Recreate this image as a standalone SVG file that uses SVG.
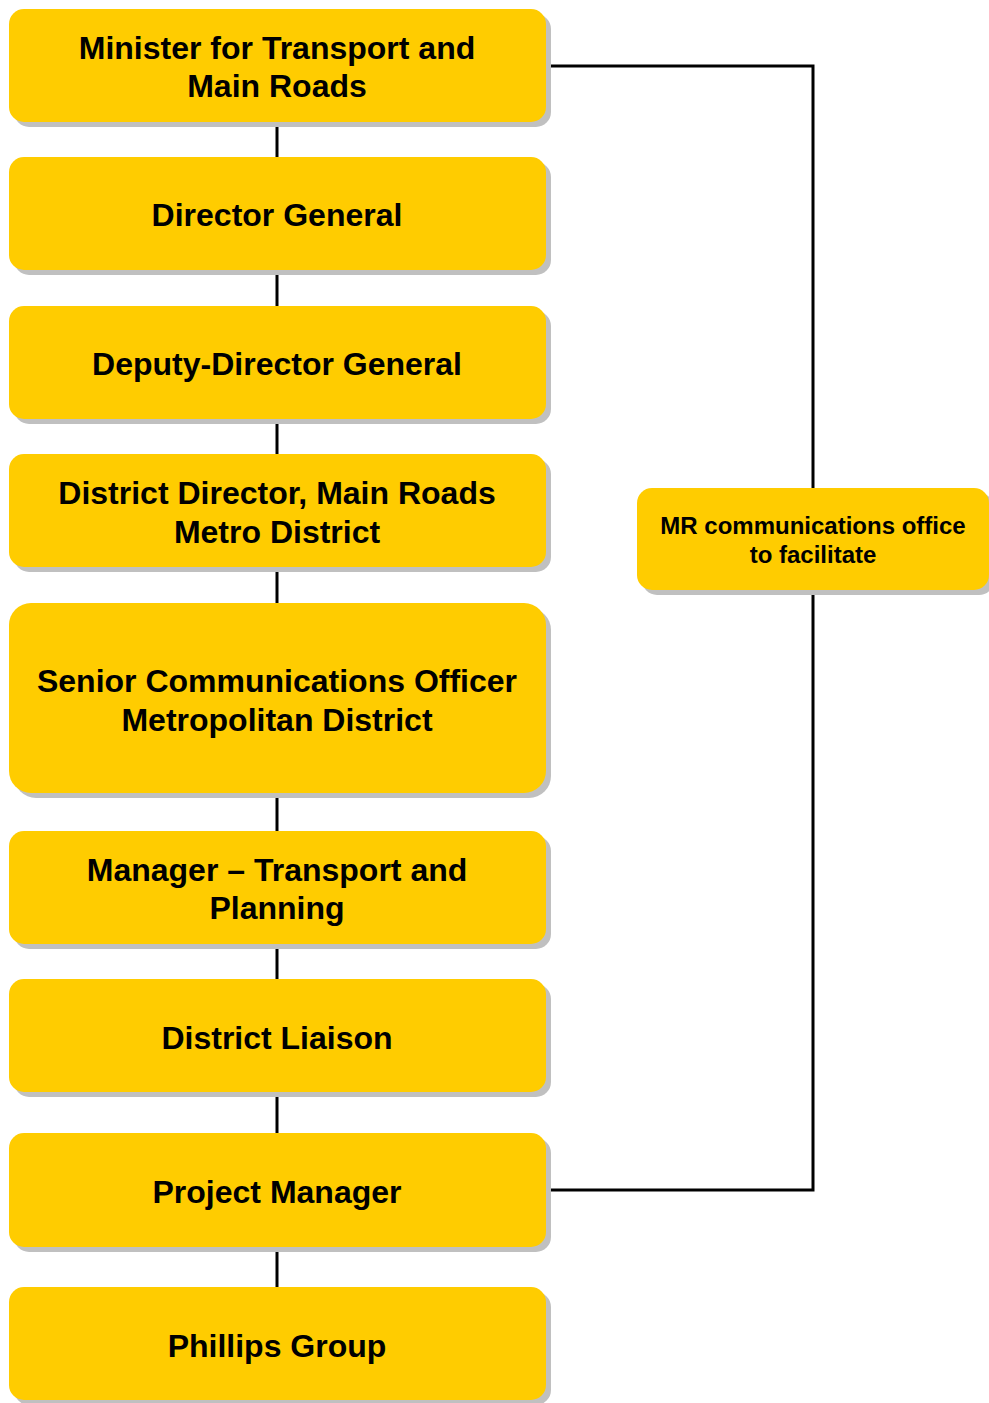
<svg xmlns="http://www.w3.org/2000/svg" width="989" height="1403" viewBox="0 0 989 1403">
  <style>
    .shadow { fill: #c0c0c0; }
    .box { fill: #ffcc00; }
    .label { font-family: "Liberation Sans", Arial, sans-serif; font-weight: bold; font-size: 32px; fill: #000; text-anchor: middle; }
    .small { font-size: 24px; }
    .link { fill: none; stroke: #000; stroke-width: 3; }
  </style>
  <rect width="989" height="1403" fill="#fff"/>

  <g id="connectors">
    <line class="link" x1="277" y1="121" x2="277" y2="158"/>
    <line class="link" x1="277" y1="270" x2="277" y2="306"/>
    <line class="link" x1="277" y1="418" x2="277" y2="455"/>
    <line class="link" x1="277" y1="566" x2="277" y2="604"/>
    <line class="link" x1="277" y1="792" x2="277" y2="832"/>
    <line class="link" x1="277" y1="943" x2="277" y2="980"/>
    <line class="link" x1="277" y1="1092" x2="277" y2="1134"/>
    <line class="link" x1="277" y1="1247" x2="277" y2="1288"/>
    <polyline class="link" points="546,66 813,66 813,489"/>
    <polyline class="link" points="813,590 813,1190 546,1190"/>
  </g>

  <g id="minister">
    <rect class="shadow" x="14" y="14" width="537" height="113" rx="15"/>
    <rect class="box" x="9" y="9" width="537" height="113" rx="15"/>
    <text class="label" x="277" y="59">Minister for Transport and</text>
    <text class="label" x="277" y="97">Main Roads</text>
  </g>

  <g id="director-general">
    <rect class="shadow" x="14" y="162" width="537" height="113" rx="15"/>
    <rect class="box" x="9" y="157" width="537" height="113" rx="15"/>
    <text class="label" x="277" y="226">Director General</text>
  </g>

  <g id="deputy-director-general">
    <rect class="shadow" x="14" y="311" width="537" height="113" rx="15"/>
    <rect class="box" x="9" y="306" width="537" height="113" rx="15"/>
    <text class="label" x="277" y="375">Deputy-Director General</text>
  </g>

  <g id="district-director">
    <rect class="shadow" x="14" y="459" width="537" height="113" rx="15"/>
    <rect class="box" x="9" y="454" width="537" height="113" rx="15"/>
    <text class="label" x="277" y="504">District Director, Main Roads</text>
    <text class="label" x="277" y="543">Metro District</text>
  </g>

  <g id="senior-communications-officer">
    <rect class="shadow" x="14" y="608" width="537" height="190" rx="22"/>
    <rect class="box" x="9" y="603" width="537" height="190" rx="22"/>
    <text class="label" x="277" y="692">Senior Communications Officer</text>
    <text class="label" x="277" y="731">Metropolitan District</text>
  </g>

  <g id="manager-transport-planning">
    <rect class="shadow" x="14" y="836" width="537" height="113" rx="15"/>
    <rect class="box" x="9" y="831" width="537" height="113" rx="15"/>
    <text class="label" x="277" y="881">Manager – Transport and</text>
    <text class="label" x="277" y="919">Planning</text>
  </g>

  <g id="district-liaison">
    <rect class="shadow" x="14" y="984" width="537" height="113" rx="15"/>
    <rect class="box" x="9" y="979" width="537" height="113" rx="15"/>
    <text class="label" x="277" y="1049">District Liaison</text>
  </g>

  <g id="project-manager">
    <rect class="shadow" x="14" y="1138" width="537" height="114" rx="15"/>
    <rect class="box" x="9" y="1133" width="537" height="114" rx="15"/>
    <text class="label" x="277" y="1203">Project Manager</text>
  </g>

  <g id="phillips-group">
    <rect class="shadow" x="14" y="1292" width="537" height="113" rx="15"/>
    <rect class="box" x="9" y="1287" width="537" height="113" rx="15"/>
    <text class="label" x="277" y="1357">Phillips Group</text>
  </g>

  <g id="mr-communications-office">
    <rect class="shadow" x="642" y="493" width="352" height="102" rx="15"/>
    <rect class="box" x="637" y="488" width="352" height="102" rx="15"/>
    <text class="label small" x="813" y="534">MR communications office</text>
    <text class="label small" x="813" y="563">to facilitate</text>
  </g>
</svg>
